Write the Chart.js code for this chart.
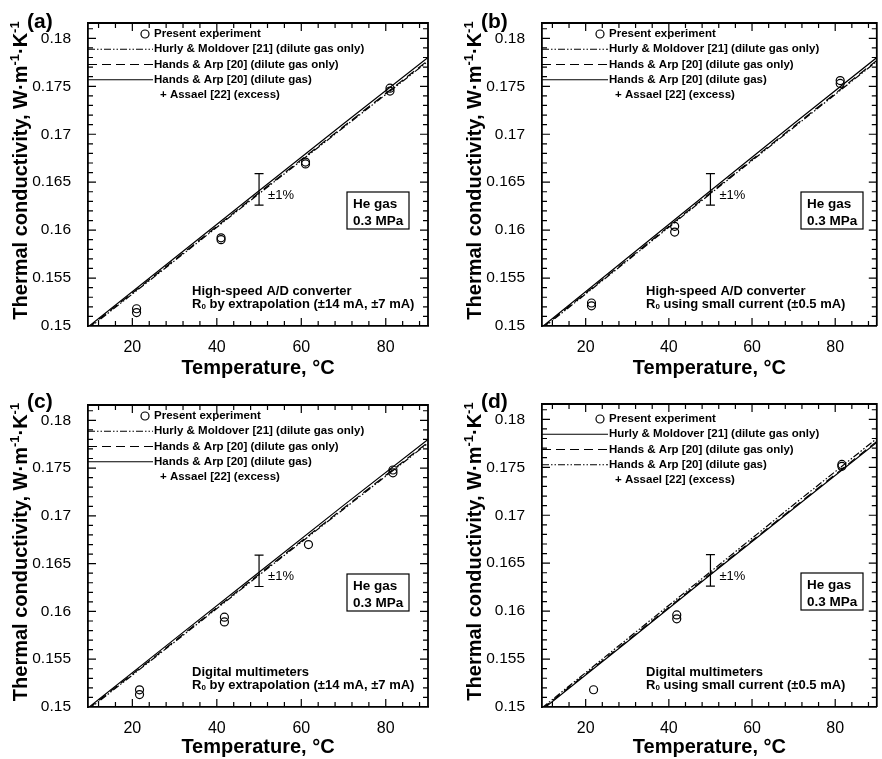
<!DOCTYPE html>
<html>
<head>
<meta charset="utf-8">
<script src="https://cdn.jsdelivr.net/npm/chart.js@4"></script>
<style>
html, body { margin: 0; padding: 0; background: #fff; }
#fig { position: relative; width: 882px; height: 759px; overflow: hidden; }
.panel { position: absolute; }
</style>
</head>
<body>
<div id="fig">
  <div class="panel" style="left:0;top:0;width:441px;height:380px"><canvas id="pa"></canvas></div>
  <div class="panel" style="left:441px;top:0;width:441px;height:380px"><canvas id="pb"></canvas></div>
  <div class="panel" style="left:0;top:380px;width:441px;height:379px"><canvas id="pc"></canvas></div>
  <div class="panel" style="left:441px;top:380px;width:441px;height:379px"><canvas id="pd"></canvas></div>
</div>
<script>
const FONT = '"Liberation Sans", Arial, Helvetica, sans-serif';

// axis tick labels
const tempTicks = [20, 40, 60, 80];
const kTicks = [0.15, 0.155, 0.16, 0.165, 0.17, 0.175, 0.18];

// reference curves, temperature in °C, conductivity in W/(m·K)
const modelT = [9.5, 30, 50, 70, 90];
const hurlyDiluteK = [0.1497, 0.1568, 0.1638, 0.1707, 0.1776];
const handsDiluteK = [0.1498, 0.1569, 0.1639, 0.1708, 0.1777];
const handsAssaelK = [0.1499, 0.1571, 0.1641, 0.1711, 0.1780];

// measured points, one pair of arrays per panel
const aT = [21.0, 21.0, 41.0, 41.0, 61.0, 61.0, 81.0, 81.0];
const aK = [0.1518, 0.1514, 0.1592, 0.1590, 0.1671, 0.1669, 0.1748, 0.1745];
const bT = [21.4, 21.4, 41.4, 41.4, 81.2, 81.2];
const bK = [0.1524, 0.1521, 0.1604, 0.1598, 0.1756, 0.1753];
const cT = [21.7, 21.7, 41.8, 41.8, 61.7, 81.7, 81.7];
const cK = [0.1518, 0.1513, 0.1594, 0.1589, 0.1670, 0.1748, 0.1745];
const dT = [21.9, 41.9, 41.9, 81.6, 81.6];
const dK = [0.1518, 0.1596, 0.1592, 0.1753, 0.1751];

// ±1 % uncertainty bar
const errT = 50;
const errK = 0.16425;
const errPct = 1;

const curveLabels = [
  'Hurly & Moldover [21] (dilute gas only)',
  'Hands & Arp [20] (dilute gas only)',
  'Hands & Arp [20] (dilute gas)'
];

const SOLID = [];
const DASHED = [9, 5];
const DASHDOT = [7, 2, 1.5, 2, 1.5, 2];

const panels = [
  { id: 'pa', tag: '(a)', w: 441, h: 380, area: { left: 88, top: 23, right: 428, bottom: 326 },
    T: aT, K: aK, styles: [DASHDOT, DASHED, SOLID], legX: 66, legY: 11,
    note: ['High-speed A/D converter', ' by extrapolation (\u00b114 mA, \u00b17 mA)'] },
  { id: 'pb', tag: '(b)', w: 441, h: 380, area: { left: 101, top: 23, right: 441, bottom: 326 },
    T: bT, K: bK, styles: [DASHDOT, DASHED, SOLID], legX: 67, legY: 11,
    note: ['High-speed A/D converter', ' using small current (\u00b10.5 mA)'] },
  { id: 'pc', tag: '(c)', w: 441, h: 379, area: { left: 88, top: 25, right: 428, bottom: 327 },
    T: cT, K: cK, styles: [DASHDOT, DASHED, SOLID], legX: 66, legY: 11,
    note: ['Digital multimeters', ' by extrapolation (\u00b114 mA, \u00b17 mA)'] },
  { id: 'pd', tag: '(d)', w: 441, h: 379, area: { left: 101, top: 24, right: 441, bottom: 327 },
    T: dT, K: dK, styles: [SOLID, DASHED, DASHDOT], legX: 67, legY: 15,
    note: ['Digital multimeters', ' using small current (\u00b10.5 mA)'] }
];

function pts(xs, ys) {
  return xs.map((x, i) => ({ x: x, y: ys[i] }));
}

// draws a run of [text, font, dy] pieces starting at x
function drawRuns(ctx, runs, x, y) {
  runs.forEach(r => {
    ctx.font = r[1];
    ctx.fillText(r[0], x, y + r[2]);
    x += ctx.measureText(r[0]).width;
  });
}

function runsWidth(ctx, runs) {
  let w = 0;
  runs.forEach(r => { ctx.font = r[1]; w += ctx.measureText(r[0]).width; });
  return w;
}

function decor(p) {
  return {
    id: 'decor',
    afterDraw(chart) {
      const ctx = chart.ctx;
      const a = chart.chartArea;
      const xs = chart.scales.x, ys = chart.scales.y;
      ctx.save();
      ctx.strokeStyle = '#000';
      ctx.fillStyle = '#000';

      // top and right edges of the frame
      ctx.lineWidth = 1.8;
      ctx.beginPath();
      ctx.moveTo(a.left, a.top);
      ctx.lineTo(a.right, a.top);
      ctx.lineTo(a.right, a.bottom);
      ctx.stroke();

      // inward ticks on all four sides
      ctx.lineWidth = 1.2;
      ctx.beginPath();
      for (let t = 12; t <= 88; t += 4) {
        const px = xs.getPixelForValue(t);
        const len = tempTicks.includes(t) ? 8 : 5;
        ctx.moveTo(px, a.bottom); ctx.lineTo(px, a.bottom - len);
        ctx.moveTo(px, a.top); ctx.lineTo(px, a.top + len);
      }
      for (let i = 151; i <= 181; i++) {
        const py = ys.getPixelForValue(i / 1000);
        const len = i % 5 === 0 ? 8 : 5;
        ctx.moveTo(a.left, py); ctx.lineTo(a.left + len, py);
        ctx.moveTo(a.right, py); ctx.lineTo(a.right - len, py);
      }
      ctx.stroke();

      // uncertainty bar
      const ex = xs.getPixelForValue(errT);
      const eTop = ys.getPixelForValue(errK * (1 + errPct / 100));
      const eBot = ys.getPixelForValue(errK * (1 - errPct / 100));
      const eMid = ys.getPixelForValue(errK);
      ctx.lineWidth = 1.2;
      ctx.beginPath();
      ctx.moveTo(ex, eTop); ctx.lineTo(ex, eBot);
      ctx.moveTo(ex - 4.5, eTop); ctx.lineTo(ex + 4.5, eTop);
      ctx.moveTo(ex - 4.5, eBot); ctx.lineTo(ex + 4.5, eBot);
      ctx.stroke();
      ctx.textBaseline = 'middle';
      ctx.textAlign = 'left';
      ctx.font = '13px ' + FONT;
      ctx.fillText('\u00b1' + errPct + '%', ex + 9, eMid + 6);

      // gas / pressure box
      const bx = a.left + 259, by = a.top + 169;
      ctx.lineWidth = 1.2;
      ctx.strokeRect(bx, by, 62, 37);
      ctx.font = 'bold 13.5px ' + FONT;
      ctx.fillText('He gas', bx + 6, by + 12);
      ctx.fillText('0.3 MPa', bx + 6, by + 29.5);

      // measurement note
      const nx = a.left + 104;
      ctx.font = 'bold 13px ' + FONT;
      ctx.fillText(p.note[0], nx, a.bottom - 35);
      drawRuns(ctx, [['R', 'bold 13px ' + FONT, 0], ['0', 'bold 8px ' + FONT, 3],
                     [p.note[1], 'bold 13px ' + FONT, 0]], nx, a.bottom - 22);

      // legend
      const lx = a.left + p.legX;
      const rowY = k => a.top + p.legY + k * 15.25;
      ctx.font = 'bold 11.5px ' + FONT;
      ctx.lineWidth = 1.2;
      ctx.beginPath();
      ctx.arc(lx - 9, rowY(0), 4, 0, Math.PI * 2);
      ctx.stroke();
      ctx.fillText('Present experiment', lx, rowY(0));
      for (let k = 0; k < 3; k++) {
        ctx.setLineDash(p.styles[k]);
        ctx.beginPath();
        ctx.moveTo(a.left, rowY(k + 1));
        ctx.lineTo(lx - 1, rowY(k + 1));
        ctx.stroke();
        ctx.setLineDash([]);
        ctx.fillText(curveLabels[k], lx, rowY(k + 1));
      }
      ctx.fillText('+ Assael [22] (excess)', lx + 6, rowY(4));

      // panel tag
      ctx.textBaseline = 'alphabetic';
      ctx.font = 'bold 21px ' + FONT;
      ctx.fillText(p.tag, a.left - 61, 28);

      // rotated y-axis title with superscripts
      const main = 'bold 20px ' + FONT, sup = 'bold 13px ' + FONT;
      const title = [['Thermal conductivity, W\u00b7m', main, 0], ['-1', sup, -8],
                     ['\u00b7K', main, 0], ['-1', sup, -8]];
      ctx.translate(a.left - 61, (a.top + a.bottom) / 2 - 4);
      ctx.rotate(-Math.PI / 2);
      drawRuns(ctx, title, -runsWidth(ctx, title) / 2, 0);
      ctx.restore();
    }
  };
}

function makePanel(p) {
  const curves = [hurlyDiluteK, handsDiluteK, handsAssaelK].map((k, i) => ({
    label: curveLabels[i],
    data: pts(modelT, k),
    showLine: true,
    borderColor: '#000',
    borderWidth: 1.2,
    borderDash: p.styles[i],
    pointRadius: 0
  }));
  const measured = {
    label: 'Present experiment',
    data: pts(p.T, p.K),
    showLine: false,
    pointStyle: 'circle',
    pointRadius: 4,
    borderColor: '#000',
    backgroundColor: 'rgba(0,0,0,0)',
    pointBorderWidth: 1.2
  };

  new Chart(document.getElementById(p.id), {
    type: 'scatter',
    data: { datasets: [measured].concat(curves) },
    options: {
      responsive: true,
      maintainAspectRatio: false,
      animation: false,
      events: [],
      layout: { padding: { left: 0, top: p.area.top, right: p.w - p.area.right, bottom: 0 } },
      plugins: { legend: { display: false }, tooltip: { enabled: false } },
      scales: {
        x: {
          type: 'linear', min: 9.5, max: 90,
          grid: { display: false },
          border: { display: true, color: '#000', width: 1.8 },
          afterBuildTicks: s => { s.ticks = tempTicks.map(v => ({ value: v })); },
          afterFit: s => { s.height = p.h - p.area.bottom; },
          ticks: { color: '#000', padding: 4, font: { family: FONT, size: 16 }, callback: v => String(v) },
          title: { display: true, text: 'Temperature, \u00b0C', color: '#000',
                   font: { family: FONT, size: 20, weight: 'bold' }, padding: { top: 0, bottom: 0 } }
        },
        y: {
          type: 'linear', min: 0.15, max: 0.1816,
          grid: { display: false },
          border: { display: true, color: '#000', width: 1.8 },
          afterBuildTicks: s => { s.ticks = kTicks.map(v => ({ value: v })); },
          afterFit: s => { s.width = p.area.left; },
          ticks: { color: '#000', padding: 9, font: { family: FONT, size: 15.5 }, callback: v => String(v) }
        }
      }
    },
    plugins: [decor(p)]
  });
}

panels.forEach(makePanel);
</script>
</body>
</html>
